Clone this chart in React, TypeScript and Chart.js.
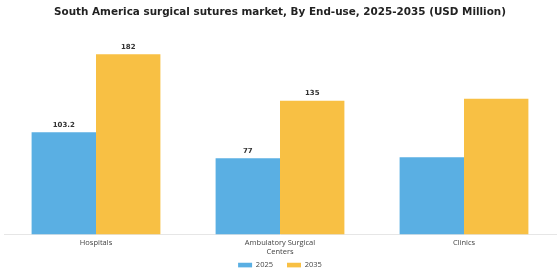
import React, { useEffect, useRef } from "react";
import { Chart, registerables } from "chart.js";

Chart.register(...registerables);

const categories: (string | string[])[] = ["Hospitals", ["Ambulatory Surgical", "Centers"], "Clinics"];
const series2025 = [103.2, 77, 78];
const series2035 = [182, 135, 137];
const labels2025: (string | null)[] = ["103.2", "77", null];
const labels2035: (string | null)[] = ["182", "135", null];
const seriesNames = ["2025", "2035"];
const titleText = "South America surgical sutures market, By End-use, 2025-2035 (USD Million)";

const valueLabelPlugin = {
  id: "valueLabels",
  afterDatasetsDraw(chart: any) {
    const ctx = chart.ctx;
    const lists = [labels2025, labels2035];
    chart.data.datasets.forEach((_: any, di: number) => {
      const meta = chart.getDatasetMeta(di);
      meta.data.forEach((bar: any, i: number) => {
        const t = lists[di][i];
        if (!t) return;
        ctx.save();
        ctx.font = "bold 7px 'DejaVu Sans'";
        ctx.fillStyle = "#333";
        ctx.textAlign = "center";
        ctx.textBaseline = "bottom";
        ctx.fillText(t, bar.x, bar.y - 4);
        ctx.restore();
      });
    });
  },
};

// Lift the legend closer to the axis labels while keeping wide item spacing
const legendShiftPlugin = {
  id: "legendShift",
  afterLayout(chart: any) {
    const lg = chart.legend;
    if (!lg) return;
    const shift = 12.5;
    lg.top -= shift;
    lg.bottom -= shift;
    if (lg.legendHitBoxes) lg.legendHitBoxes.forEach((h: any) => (h.top -= shift));
  },
};

export default function App() {
  const ref = useRef<HTMLCanvasElement>(null);
  useEffect(() => {
    document.body.style.margin = "0";
    const chart = new Chart(ref.current!, {
      type: "bar",
      data: {
        labels: categories as any,
        datasets: [
          { label: seriesNames[0], data: series2025, backgroundColor: "#5AAFE3", categoryPercentage: 0.7, barPercentage: 1 },
          { label: seriesNames[1], data: series2035, backgroundColor: "#F8C044", categoryPercentage: 0.7, barPercentage: 1 },
        ],
      },
      options: {
        animation: false,
        responsive: false,
        maintainAspectRatio: false,
        layout: { padding: { left: 4, right: 4, top: 0, bottom: 0 } },
        plugins: {
          title: {
            display: true,
            text: titleText,
            color: "#222",
            font: { family: "'DejaVu Sans'", size: 10.4, weight: "bold" },
            padding: { top: 6, bottom: 18 },
          },
          legend: {
            position: "bottom",
            maxHeight: 20,
            labels: {
              boxWidth: 14,
              boxHeight: 5,
              color: "#444",
              font: { family: "'Open Sans'", size: 7.5 },
              padding: 14,
            },
          },
          tooltip: { enabled: false },
        },
        scales: {
          x: {
            grid: { display: false, drawTicks: false },
            border: { display: true, color: "#e6e6e6" },
            ticks: { color: "#444", font: { family: "'Open Sans'", size: 7.5, lineHeight: 1.1 }, padding: 4.5, maxRotation: 0 },
          },
          y: {
            display: false,
            min: 0,
            max: 200,
          },
        },
      },
      plugins: [valueLabelPlugin, legendShiftPlugin],
    });
    return () => chart.destroy();
  }, []);
  return (
    <div style={{ width: 560, height: 280 }}>
      <canvas ref={ref} width={560} height={280} style={{ width: 560, height: 280, display: "block" }} />
    </div>
  );
}
